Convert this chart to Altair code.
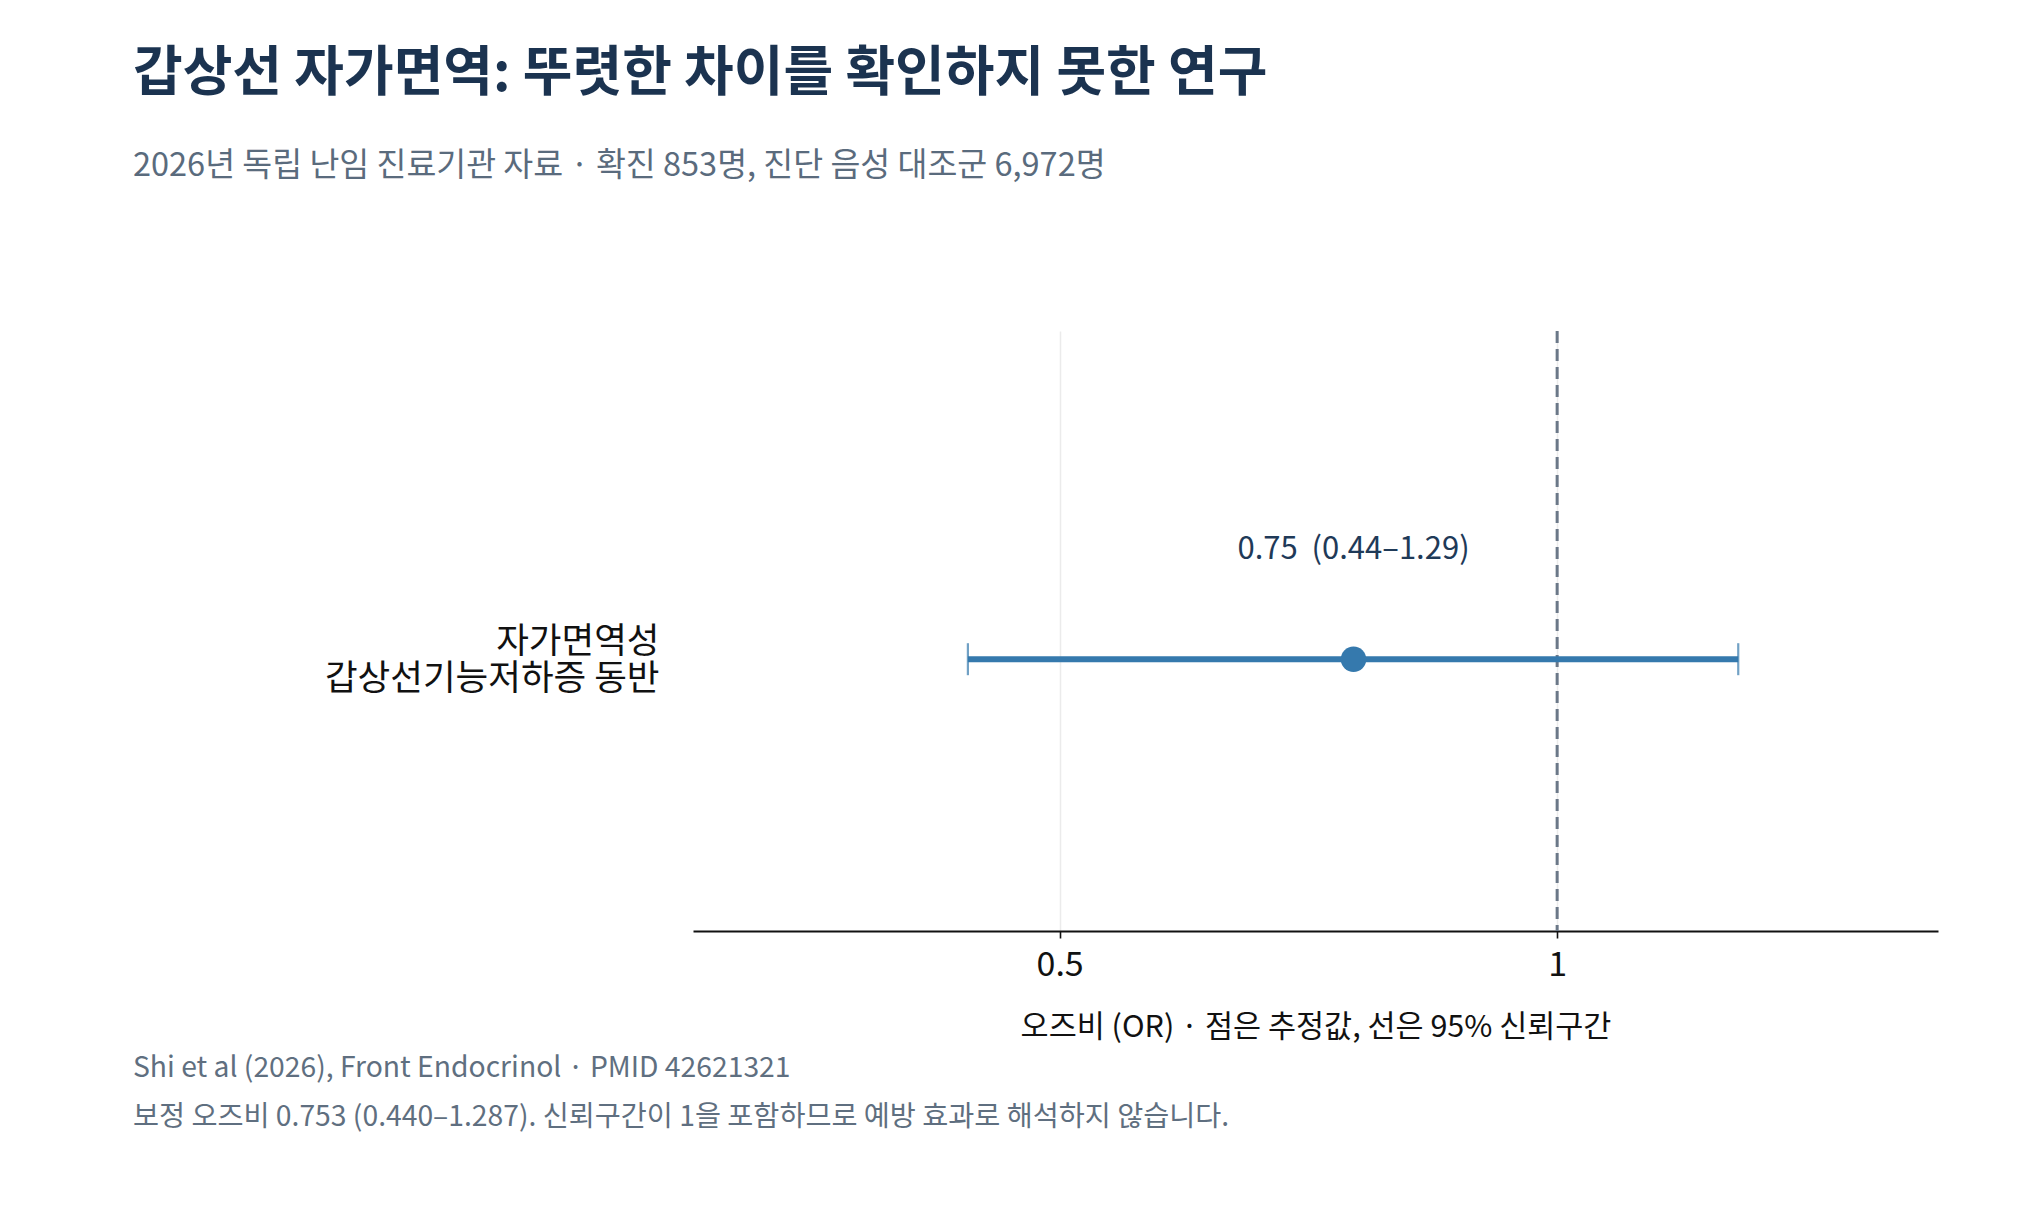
import altair as alt
import pandas as pd

# ---- data ----
categories = ["자가면역성\n갑상선기능저하증 동반"]
or_values = [0.753]
ci_low = [0.440]
ci_high = [1.287]
tick_values = [0.5, 1]
ref_value = [1]
footer_lines = [
    "Shi et al (2026), Front Endocrinol · PMID 42621321",
    "보정 오즈비 0.753 (0.440–1.287). 신뢰구간이 1을 포함하므로 예방 효과로 해석하지 않습니다.",
]

title_text = "갑상선 자가면역: 뚜렷한 차이를 확인하지 못한 연구"
subtitle_text = "2026년 독립 난임 진료기관 자료 · 확진 853명, 진단 음성 대조군 6,972명"
x_title = "오즈비 (OR) · 점은 추정값, 선은 95% 신뢰구간"

FONT = "Noto Sans CJK KR"
BLUE = "#3579ad"

df = pd.DataFrame({"cat": categories, "or": or_values, "lo": ci_low, "hi": ci_high})
df["label"] = [f"{o:.2f}\u00a0\u00a0({l:.2f}–{h:.2f})" for o, l, h in zip(or_values, ci_low, ci_high)]

xscale = alt.Scale(type="log", domain=[0.3, 1.7])
yscale = alt.Scale(type="point", align=0.547, padding=0.5)

x_axis = alt.Axis(
    values=tick_values, format="~g", title=x_title,
    grid=True, gridColor="#ebebeb", gridWidth=1.5,
    domainColor="#111111", domainWidth=2,
    tickColor="#111111", tickWidth=1.6, tickSize=7,
    labelFontSize=34, labelColor="#111111", labelPadding=10,
    titleFontSize=30.5, titleColor="#111111", titleFontWeight="normal", titlePadding=30,
)
y_axis = alt.Axis(
    title=None, domain=False, ticks=False, grid=False,
    labelExpr="split(datum.label, '\\n')", labelFontSize=35.5, labelColor="#111111",
    labelPadding=34, labelLineHeight=37, labelLimit=0, labelOffset=-18,
)

base = alt.Chart(df)

ref = alt.Chart(pd.DataFrame({"ref": ref_value})).mark_rule(
    color="#6b7888", strokeWidth=3, strokeDash=[12, 6]
).encode(x=alt.X("ref:Q", scale=xscale, axis=x_axis, title=x_title))

ci = base.mark_rule(color=BLUE, strokeWidth=6).encode(
    x=alt.X("lo:Q", scale=xscale, axis=x_axis, title=x_title),
    x2="hi:Q",
    y=alt.Y("cat:N", scale=yscale, axis=y_axis),
)

cap_lo = base.mark_tick(color=BLUE, thickness=2.2, size=32).encode(
    x=alt.X("lo:Q", scale=xscale, axis=x_axis, title=x_title),
    y=alt.Y("cat:N", scale=yscale, axis=y_axis),
)
cap_hi = base.mark_tick(color=BLUE, thickness=2.2, size=32).encode(
    x=alt.X("hi:Q", scale=xscale, axis=x_axis, title=x_title),
    y=alt.Y("cat:N", scale=yscale, axis=y_axis),
)

pt = base.mark_circle(color=BLUE, size=650, opacity=1).encode(
    x=alt.X("or:Q", scale=xscale, axis=x_axis, title=x_title),
    y=alt.Y("cat:N", scale=yscale, axis=y_axis),
)

lbl = base.mark_text(font=FONT, fontSize=31, color="#1f3a58", dy=-109, baseline="middle").encode(
    x=alt.X("or:Q", scale=xscale, axis=x_axis, title=x_title),
    y=alt.Y("cat:N", scale=yscale, axis=y_axis),
    text="label:N",
)

foot1 = alt.Chart(pd.DataFrame({"t": [footer_lines[0]]})).mark_text(
    font=FONT, fontSize=28.3, color="#5f6f80", align="left", baseline="middle"
).encode(x=alt.value(-560), y=alt.value(738), text="t:N")
foot2 = alt.Chart(pd.DataFrame({"t": [footer_lines[1]]})).mark_text(
    font=FONT, fontSize=28.3, color="#5f6f80", align="left", baseline="middle"
).encode(x=alt.value(-560), y=alt.value(787), text="t:N")

chart = alt.layer(ref, ci, cap_lo, cap_hi, pt, lbl, foot1, foot2).properties(
    width=1245,
    height=600,
    padding={"left": 125, "top": 40, "right": 40, "bottom": 40},
    title=alt.TitleParams(
        text=title_text, subtitle=subtitle_text,
        anchor="start", frame="bounds",
        font=FONT, fontSize=54, fontWeight="bold", color="#1b3350",
        subtitleFont=FONT, subtitleFontSize=32.5, subtitleColor="#5a6b7d",
        subtitlePadding=48, offset=147,
    ),
).configure(font=FONT).configure_view(stroke=None)

chart.save("out.html", embed_options={"renderer": "svg", "actions": False})
